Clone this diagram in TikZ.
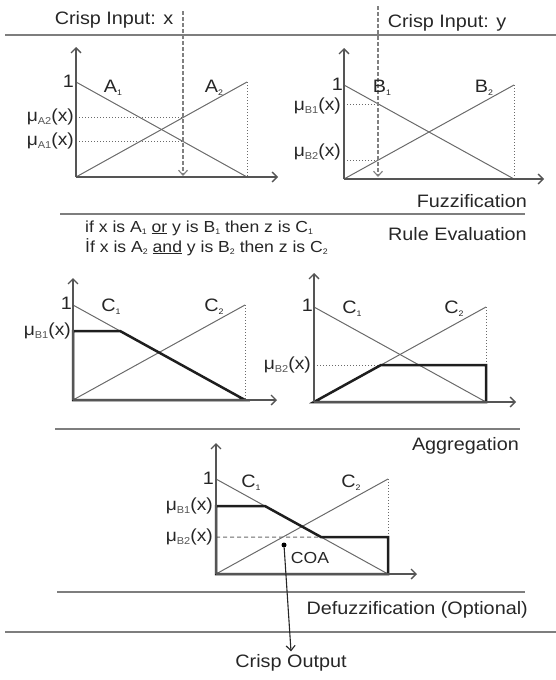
\documentclass[tikz,border=0pt]{standalone}
\usepackage{fontspec}
\setmainfont[FakeStretch=1.1]{Liberation Sans}
\usetikzlibrary{arrows.meta,calc}
\definecolor{axgray}{HTML}{555555}
\definecolor{mfgray}{HTML}{6A6A6A}
\definecolor{secgray}{HTML}{7E7E7E}
\definecolor{thk}{HTML}{1E1E1E}
\newcommand{\sbs}[1]{\raisebox{-0.35ex}{\fontsize{8}{8}\selectfont #1}}
\newcommand{\mulab}[1]{μ\raisebox{-0.3ex}{\fontsize{10}{10}\selectfont\color{axgray}#1}(x)}
\begin{document}
\begin{tikzpicture}[x=1pt,y=-1pt,
  sect/.style={draw=secgray,line width=2pt},
  axis/.style={draw=axgray,line width=1.3pt,-{Straight Barb[length=5pt,width=10pt]}},
  mf/.style={draw=mfgray,line width=1pt},
  dotl/.style={draw=mfgray,dotted,line width=1pt},
  crisp/.style={draw=mfgray!85,dash pattern=on 4pt off 2pt,line width=1.1pt,-{Straight Barb[length=5pt,width=9pt]}},
  agg/.style={draw=thk,line width=2.5pt,line join=miter},
  head/.style={font=\fontsize{18}{18}\selectfont,inner sep=0pt,text=black!85},
  lbl/.style={font=\fontsize{17.5}{17.5}\selectfont,inner sep=0pt,text=black!85},
  one/.style={font=\fontsize{18}{18}\selectfont,inner sep=0pt,text=black!85},
  set/.style={font=\fontsize{18}{18}\selectfont,inner sep=0pt,text=black!85},
  rule/.style={font=\fontsize{16}{16}\selectfont,inner sep=0pt,text=black!85,anchor=base west}]
\useasboundingbox (0,0) rectangle (556,680);

% ---------- section lines ----------
\coordinate (s1a) at (5,35);   \coordinate (s1b) at (556,35);
\coordinate (s2a) at (60,214); \coordinate (s2b) at (525,214);
\coordinate (s3a) at (55,429); \coordinate (s3b) at (520,429);
\coordinate (s4a) at (57,592); \coordinate (s4b) at (525,592);
\coordinate (s5a) at (5,632);  \coordinate (s5b) at (556,632);
\draw[sect] (s1a) -- (s1b);
\draw[sect] (s2a) -- (s2b);
\draw[sect] (s3a) -- (s3b);
\draw[sect] (s4a) -- (s4b);
\draw[sect] (s5a) -- (s5b);

% ---------- chart 1 : A ----------
\coordinate (o1) at (76,177); \coordinate (ya1) at (76,47); \coordinate (xa1) at (278,177);
\coordinate (t1) at (76,82); \coordinate (r1) at (247,177); \coordinate (rt1) at (247,82);
\draw[mf] (t1) -- (r1);
\draw[mf] (o1) -- (rt1);
\draw[dotl] (rt1) -- (r1);
\coordinate (ca2) at (183,117.6); \coordinate (ca1) at (183,141.4);
\coordinate (la2) at (76,117.6); \coordinate (la1) at (76,141.4);
\draw[dotl] (la2) -- (ca2);
\draw[dotl] (la1) -- (ca1);
\draw[axis] (o1) -- (ya1);
\draw[axis] (o1) -- (xa1);
\coordinate (cxt) at (183,11); \coordinate (cxb) at (183,176);
\draw[crisp] (cxt) -- (cxb);
\node[head] (inx) at (114,20) {Crisp Input: x};
\node[one,anchor=east] (one1) at (74,81) {1};
\node[lbl,anchor=east] (mua2) at (74,117) {\mulab{A2}};
\node[lbl,anchor=east] (mua1) at (74,141) {\mulab{A1}};
\node[set] (A1) at (113,88) {A\sbs{1}};
\node[set] (A2) at (214,88) {A\sbs{2}};

% ---------- chart 2 : B ----------
\coordinate (o2) at (344,179); \coordinate (ya2) at (344,48); \coordinate (xa2) at (544,179);
\coordinate (t2) at (344,85); \coordinate (r2) at (514,179); \coordinate (rt2) at (514,85);
\draw[mf] (t2) -- (r2);
\draw[mf] (o2) -- (rt2);
\draw[dotl] (rt2) -- (r2);
\coordinate (cb1) at (378,104); \coordinate (cb2) at (378,160);
\coordinate (lb1) at (344,104); \coordinate (lb2) at (344,160);
\draw[dotl] (lb1) -- (cb1);
\draw[dotl] (lb2) -- (cb2);
\draw[axis] (o2) -- (ya2);
\draw[axis] (o2) -- (xa2);
\coordinate (cyt) at (378,6); \coordinate (cyb) at (378,177);
\draw[crisp] (cyt) -- (cyb);
\node[head] (iny) at (447,23) {Crisp Input: y};
\node[one,anchor=east] (one2) at (343,84) {1};
\node[lbl,anchor=east] (mub1) at (341,106) {\mulab{B1}};
\node[lbl,anchor=east] (mub2) at (341,152) {\mulab{B2}};
\node[set] (B1) at (382,88) {B\sbs{1}};
\node[set] (B2) at (484,88) {B\sbs{2}};
\node[head,anchor=east] (fuzz) at (527,201) {Fuzzification};

% ---------- rule evaluation ----------
\node[head,anchor=east] (rule) at (527,234) {Rule Evaluation};
\node[rule] (r1txt) at (85,232) {if x is A\sbs{1} \underline{or} y is B\sbs{1} then z is C\sbs{1}};
\node[rule] (r2txt) at (85,252) {İf x is A\sbs{2} \underline{and} y is B\sbs{2} then z is C\sbs{2}};

% ---------- chart 3 ----------
\coordinate (o3) at (73,400); \coordinate (ya3) at (73,278); \coordinate (xa3) at (277,400);
\coordinate (t3) at (73,305); \coordinate (r3) at (245,400); \coordinate (rt3) at (245,305);
\draw[mf] (t3) -- (r3);
\draw[mf] (o3) -- (rt3);
\draw[dotl] (rt3) -- (r3);
\coordinate (h3) at (73,331); \coordinate (p3) at ($(t3)!26/95!(r3)$);
\draw[agg] (o3) -- (h3) -- (p3) -- (r3) -- cycle;
\draw[axis] (o3) -- (ya3);
\draw[axis] (o3) -- (xa3);
\node[one,anchor=east] (one3) at (72,303) {1};
\node[lbl,anchor=east] (mu3) at (71,331) {\mulab{B1}};
\node[set] (C13) at (111,307) {C\sbs{1}};
\node[set] (C23) at (214,307) {C\sbs{2}};

% ---------- chart 4 ----------
\coordinate (o4) at (314,402); \coordinate (ya4) at (314,273); \coordinate (xa4) at (516,402);
\coordinate (t4) at (314,307); \coordinate (r4) at (486,402); \coordinate (rt4) at (486,307);
\draw[mf] (t4) -- (r4);
\draw[mf] (o4) -- (rt4);
\draw[dotl] (rt4) -- (r4);
\coordinate (h4) at (314,365); \coordinate (p4) at ($(o4)!37/95!(rt4)$); \coordinate (q4) at (486,365);
\draw[dotl] (h4) -- (q4);
\draw[agg] (o4) -- (p4) -- (q4) -- (r4) -- cycle;
\draw[axis] (o4) -- (ya4);
\draw[axis] (o4) -- (xa4);
\node[one,anchor=east] (one4) at (313,305) {1};
\node[lbl,anchor=east] (mu4) at (311,365) {\mulab{B2}};
\node[set] (C14) at (352,309) {C\sbs{1}};
\node[set] (C24) at (454,309) {C\sbs{2}};

% ---------- aggregation ----------
\node[head,anchor=east] (aggt) at (519,446) {Aggregation};
\coordinate (o5) at (216,574); \coordinate (ya5) at (216,443); \coordinate (xa5) at (417,574);
\coordinate (t5) at (216,479); \coordinate (r5) at (388,574); \coordinate (rt5) at (388,479);
\draw[mf] (t5) -- (r5);
\draw[mf] (o5) -- (rt5);
\coordinate (q5) at (388,537);
\draw[dotl] (rt5) -- (q5);
\coordinate (h5a) at (216,506); \coordinate (h5b) at (216,537);
\coordinate (p5a) at ($(t5)!27/95!(r5)$); \coordinate (p5b) at ($(t5)!58/95!(r5)$);
\draw[draw=mfgray,dash pattern=on 4pt off 3pt,line width=1pt] (h5b) -- (p5b);
\draw[agg] (o5) -- (h5a) -- (p5a) -- (p5b) -- (q5) -- (r5) -- cycle;
\draw[axis] (o5) -- (ya5);
\draw[axis] (o5) -- (xa5);
\node[one,anchor=east] (one5) at (214,478) {1};
\node[lbl,anchor=east] (mu5a) at (213,506) {\mulab{B1}};
\node[lbl,anchor=east] (mu5b) at (213,537) {\mulab{B2}};
\node[set] (C15) at (251,483) {C\sbs{1}};
\node[set] (C25) at (351,483) {C\sbs{2}};
\node[circle,fill=black,inner sep=0pt,minimum size=5pt] (coa) at (284,545) {};
\node[font=\fontsize{16}{16}\selectfont,inner sep=0pt,text=black!85] (coat) at (310,558) {COA};
\node[head,anchor=east] (defz) at (528,610) {Defuzzification (Optional)};
\node[head] (out) at (291,663) {Crisp Output};
\draw[draw=black!85,line width=1.1pt,-{Straight Barb[length=5pt,width=9pt]}] (coa) -- ($(out.north)+(0,-3)$);
\end{tikzpicture}
\end{document}
